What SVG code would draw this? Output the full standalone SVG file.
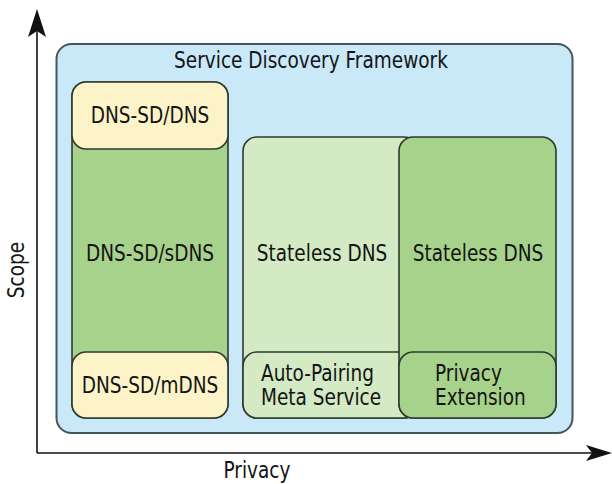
<svg xmlns="http://www.w3.org/2000/svg" width="612" height="484" viewBox="0 0 612 484">
<style>
text{font-family:"DejaVu Sans","Liberation Sans",sans-serif;font-size:18.5px;fill:#141414}
.c{text-anchor:middle}
.box{stroke:#2e3a2e;stroke-width:1.6}
.yel{fill:#fcf4c8}
.grn{fill:#a7d28c}
.lgr{fill:#d3eac5}
.ax{stroke:#111;stroke-width:1.6;fill:none}
.ah{fill:#111}
</style>
<rect width="612" height="484" fill="#fff"/>
<g id="axes">
<line class="ax" x1="37" y1="453" x2="37" y2="28"/>
<path class="ah" d="M37,9 L46,37 L37,31 L28,37 Z"/>
<line class="ax" x1="37" y1="453" x2="595" y2="453"/>
<path class="ah" d="M612,453 L586,461 L592,453 L586,445 Z"/>
<text class="c" transform="translate(24,270) rotate(-90) scale(1,1.2)">Scope</text>
<text class="c" transform="translate(257,478) scale(1,1.2)">Privacy</text>
</g>
<g id="framework">
<rect x="56.5" y="44" width="516" height="389" rx="15" fill="#c9e8f8" stroke="#44555c" stroke-width="2"/>
<text class="c" transform="translate(311,68) scale(1,1.2)">Service Discovery Framework</text>
</g>
<g id="sdns">
<rect class="box grn" x="72" y="82" width="156" height="336" rx="14"/>
<text class="c" transform="translate(150,261) scale(1,1.2)">DNS-SD/sDNS</text>
</g>
<g id="dns">
<rect class="box yel" x="72" y="82" width="156" height="67" rx="14"/>
<text class="c" transform="translate(150,123) scale(1,1.2)">DNS-SD/DNS</text>
</g>
<g id="mdns">
<rect class="box yel" x="72" y="352" width="156" height="66" rx="14"/>
<text class="c" transform="translate(150,393) scale(1,1.2)">DNS-SD/mDNS</text>
</g>
<g id="stateless1">
<rect class="box lgr" x="243" y="137" width="175" height="281" rx="14"/>
<text class="c" transform="translate(322,261) scale(1,1.2)">Stateless DNS</text>
</g>
<g id="autopairing">
<rect class="box lgr" x="243" y="352" width="175" height="66" rx="14"/>
<text transform="translate(261,381) scale(1,1.2)">Auto-Pairing</text>
<text transform="translate(261,405) scale(1,1.2)">Meta Service</text>
</g>
<g id="stateless2">
<rect class="box grn" x="399" y="137" width="157" height="281" rx="14"/>
<text class="c" transform="translate(478,261) scale(1,1.2)">Stateless DNS</text>
</g>
<g id="privacyext">
<rect class="box grn" x="399" y="352" width="157" height="66" rx="14"/>
<text transform="translate(435,381) scale(1,1.2)">Privacy</text>
<text transform="translate(435,405) scale(1,1.2)">Extension</text>
</g>
</svg>
